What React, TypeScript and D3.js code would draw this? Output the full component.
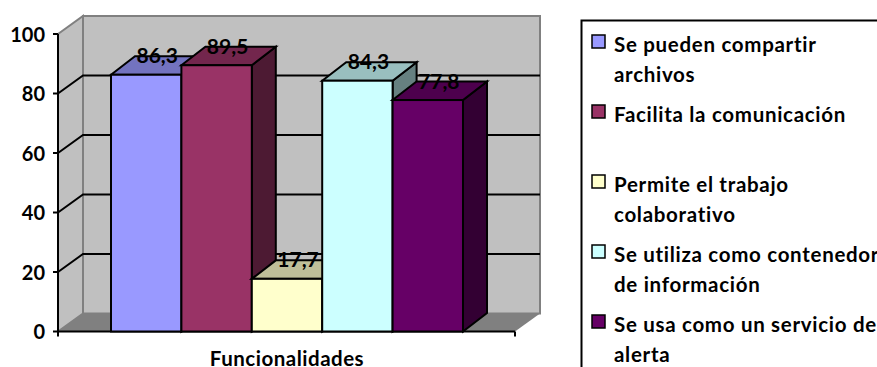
import React from "react";
import * as d3 from "d3";

const seriesValues = [86.3, 89.5, 17.7, 84.3, 77.8];
const valueLabels = ["86,3", "89,5", "17,7", "84,3", "77,8"];
const seriesColors = ["#9999ff", "#993366", "#ffffcc", "#ccffff", "#660066"];
const legendLines = [
  ["Se pueden compartir", "archivos"],
  ["Facilita la comunicación"],
  ["Permite el trabajo", "colaborativo"],
  ["Se utiliza como contenedor", "de información"],
  ["Se usa como un servicio de", "alerta"],
];
const legendRows = [0, 1, 2, 3, 4];
const axisTicks = [0, 20, 40, 60, 80, 100];
const axisTitle = "Funcionalidades";

const W = 877;
const H = 367;
const FONT = "Lato, 'Open Sans', sans-serif";

// Oblique projection used for the walls and for the bar depth
const wallDx = 25;
const wallDy = -18;
const barDx = 24;
const barDy = -18.5;
const frontLeft = 58;
const frontRight = 515;

const y = d3.scaleLinear().domain([0, 100]).range([331.5, 34]);
const x = d3
  .scaleBand<number>()
  .domain(d3.range(seriesValues.length))
  .range([111, 463])
  .paddingInner(0);
const legendY = d3.scaleLinear().domain([0, 4]).range([41.5, 321.5]);

const poly = (pts: [number, number][]) => {
  const line = d3.line();
  return line(pts) + "Z";
};

const shade = (c: string, k: number) => {
  const r = d3.rgb(c);
  return d3.rgb(r.r * k, r.g * k, r.b * k).formatHex();
};

export default function App() {
  const y0 = y(0);
  const yTop = y(100);
  return (
    <svg
      width={W}
      height={H}
      viewBox={`0 0 ${W} ${H}`}
      style={{ position: "absolute", left: 0, top: 0, background: "#fff" }}
      fontFamily={FONT}
    >
      {/* Walls and floor */}
      <path
        d={poly([
          [frontLeft + wallDx, yTop + wallDy],
          [frontRight + wallDx, yTop + wallDy],
          [frontRight + wallDx, y0 + wallDy],
          [frontLeft + wallDx, y0 + wallDy],
        ])}
        fill="#c0c0c0"
        stroke="#808080"
        strokeWidth={2}
      />
      <path
        d={poly([
          [frontLeft, yTop],
          [frontLeft + wallDx, yTop + wallDy],
          [frontLeft + wallDx, y0 + wallDy],
          [frontLeft, y0],
        ])}
        fill="#c0c0c0"
        stroke="#808080"
        strokeWidth={2}
      />
      <path
        d={poly([
          [frontLeft, y0],
          [frontLeft + wallDx, y0 + wallDy],
          [frontRight + wallDx, y0 + wallDy],
          [frontRight, y0],
        ])}
        fill="#808080"
      />

      {/* Gridlines run along the side wall and across the back wall */}
      {axisTicks
        .filter((t) => t > 0 && t < 100)
        .map((t) => (
          <path
            key={t}
            d={`M${frontLeft},${y(t)}L${frontLeft + wallDx},${y(t) + wallDy}L${frontRight + wallDx},${y(t) + wallDy}`}
            fill="none"
            stroke="#000"
            strokeWidth={2}
          />
        ))}

      {/* Axes */}
      <line x1={frontLeft} x2={frontLeft} y1={yTop} y2={y0 + 5} stroke="#000" strokeWidth={2} />
      <line x1={frontLeft} x2={frontRight} y1={y0} y2={y0} stroke="#000" strokeWidth={2} />
      <line x1={frontRight} x2={frontRight} y1={y0} y2={y0 + 5} stroke="#000" strokeWidth={2} />
      {axisTicks.map((t) => (
        <g key={t}>
          <line x1={frontLeft - 5} x2={frontLeft} y1={y(t)} y2={y(t)} stroke="#000" strokeWidth={2} />
          <text
            x={frontLeft - 13}
            y={y(t) - 0.5}
            textAnchor="end"
            dominantBaseline="central"
            fontSize={20}
            fontWeight={700}
          >
            {t}
          </text>
        </g>
      ))}

      {/* Bars, drawn left to right so that each one covers its neighbour's side */}
      {seriesValues.map((v, i) => {
        const x0 = x(i)!;
        const x1 = x0 + x.bandwidth();
        const top = y(v);
        return (
          <g key={i} stroke="#000" strokeWidth={2} strokeLinejoin="miter">
            <path
              d={poly([
                [x1, top],
                [x1 + barDx, top + barDy],
                [x1 + barDx, y0 + barDy],
                [x1, y0],
              ])}
              fill={shade(seriesColors[i], 0.5)}
            />
            <path
              d={poly([
                [x0, top],
                [x0 + barDx, top + barDy],
                [x1 + barDx, top + barDy],
                [x1, top],
              ])}
              fill={shade(seriesColors[i], 0.75)}
            />
            <rect x={x0} y={top} width={x1 - x0} height={y0 - top} fill={seriesColors[i]} />
          </g>
        );
      })}

      {/* Value labels sit over the bars' top faces */}
      {seriesValues.map((v, i) => (
        <text
          key={i}
          x={x(i)! + x.bandwidth() / 2 + 11}
          y={y(v) - 20}
          textAnchor="middle"
          dominantBaseline="central"
          fontSize={21}
          fontWeight={700}
        >
          {valueLabels[i]}
        </text>
      ))}

      <text x={287} y={365.5} textAnchor="middle" fontSize={20.5} letterSpacing={0.5} fontWeight={700}>
        {axisTitle}
      </text>

      {/* Legend; the frame runs past the right and bottom edges */}
      <rect x={581.5} y={20.5} width={340} height={380} fill="#fff" stroke="#000" strokeWidth={2} />
      {legendRows.map((i) => {
        const rowY = legendY(i);
        return (
          <g key={i}>
            <rect
              x={592}
              y={rowY - 6.5}
              width={13}
              height={13}
              fill={seriesColors[i]}
              stroke="#000"
              strokeWidth={1.5}
            />
            {legendLines[i].map((line, j) => (
              <text
                key={j}
                x={614}
                y={rowY + 2.5 + j * 30}
                dominantBaseline="central"
                fontSize={20.5}
                letterSpacing={0.7}
                fontWeight={700}
              >
                {line}
              </text>
            ))}
          </g>
        );
      })}
    </svg>
  );
}
